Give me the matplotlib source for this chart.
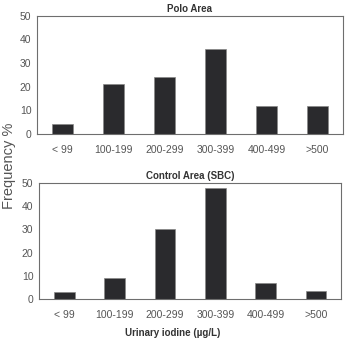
import numpy as np
import matplotlib
matplotlib.use("Agg")
import matplotlib.pyplot as plt

plt.rcParams['font.family'] = ['Liberation Sans', 'DejaVu Sans']

# ------------------ Data ------------------
categories = ["< 99", "100-199", "200-299", "300-399", "400-499", ">500"]
polo_freq = [4, 21, 24, 36, 12, 12]
control_freq = [3, 9, 30, 48, 7, 3.5]
y_ticks = [0, 10, 20, 30, 40, 50]

bar_color = "#2a2a2d"
spine_color = "#6e6e6e"
text_color = "#555555"

fig = plt.figure(figsize=(3.46, 3.38), dpi=100)
ax_top = fig.add_axes([0.107, 0.604, 0.884, 0.349])
ax_bot = fig.add_axes([0.113, 0.115, 0.873, 0.344])


def style_panel(ax, values, title):
    x = np.arange(len(categories))
    ax.bar(x, values, width=0.41, color=bar_color, edgecolor="#888888", linewidth=0.5)
    ax.set_xlim(-0.5, len(categories) - 0.5)
    ax.set_ylim(0, 50)
    ax.set_yticks(y_ticks)
    ax.set_xticks(x)
    ax.set_xticklabels(categories)
    ax.tick_params(axis="x", length=0, pad=8, labelsize=7.5, labelcolor=text_color)
    ax.tick_params(axis="y", length=0, pad=4, labelsize=7.5, labelcolor=text_color)
    for s in ax.spines.values():
        s.set_color(spine_color)
        s.set_linewidth(0.8)
    ax.set_title(title, fontsize=7, fontweight="bold", color="#333333", pad=3)


style_panel(ax_top, polo_freq, "Polo Area")
style_panel(ax_bot, control_freq, "Control Area (SBC)")

fig.text(0.5, 0.016, "Urinary iodine (\u00b5g/L)", fontsize=7, fontweight="bold",
         color="#333333", ha="center", va="center")
fig.text(0.025, 0.51, "Frequency %", rotation=90, fontsize=10.5,
         color=text_color, ha="center", va="center")

fig.savefig("out.png", dpi=100)
